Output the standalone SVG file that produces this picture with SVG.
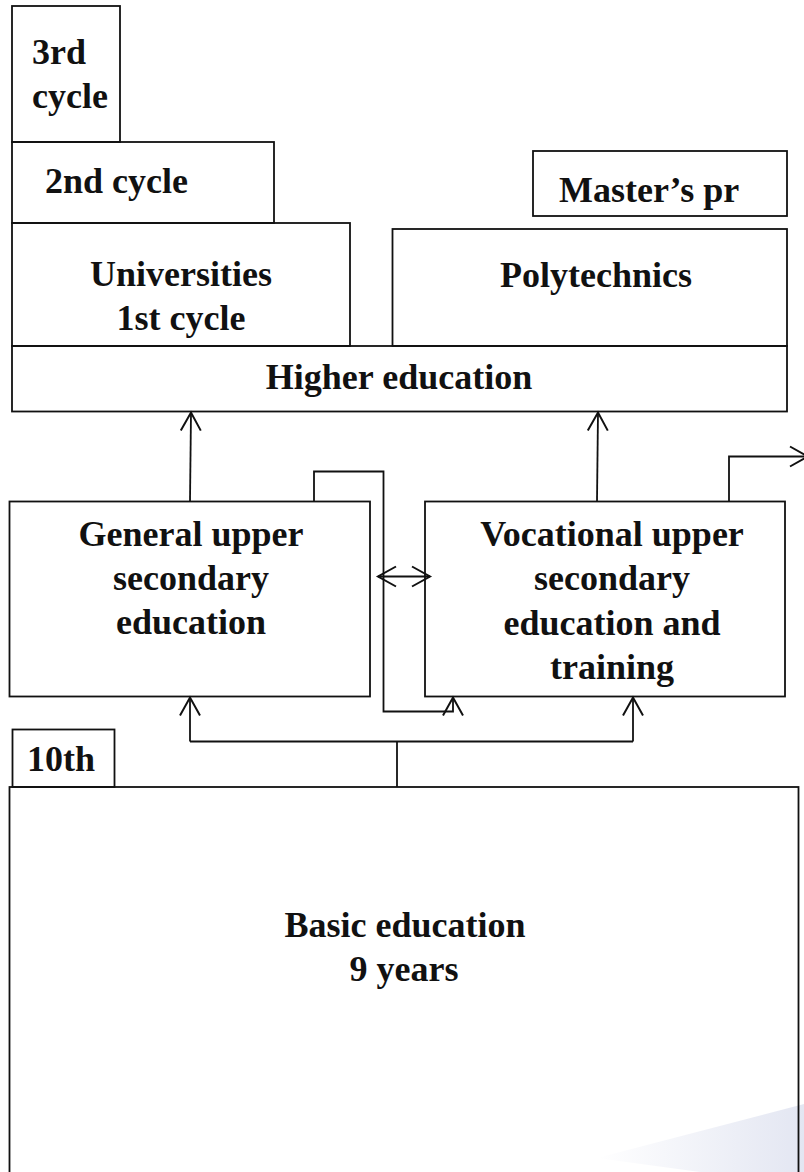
<svg xmlns="http://www.w3.org/2000/svg" width="804" height="1172" viewBox="0 0 804 1172">
<style>
.box{fill:none;stroke:#111;stroke-width:1.8}
.t{font-family:"Liberation Serif","Times New Roman",serif;font-weight:bold;font-size:36px;fill:#111}
.m{text-anchor:middle}
.c{fill:none;stroke:#111;stroke-width:1.8}
</style>
<defs>
<marker id="ah" markerUnits="userSpaceOnUse" viewBox="-20 -12 24 24" refX="0" refY="0" markerWidth="24" markerHeight="24" orient="auto-start-reverse">
<path d="M-18,-10 L0,0 L-18,10" fill="none" stroke="#111" stroke-width="2"/>
</marker>
<linearGradient id="wm" x1="0" y1="0" x2="1" y2="0">
<stop offset="0" stop-color="#ffffff"/>
<stop offset="1" stop-color="#e3e6f2"/>
</linearGradient>
</defs>
<rect width="804" height="1172" fill="#fff"/>
<polygon points="597,1158 804,1104 804,1172 700,1172" fill="url(#wm)"/>

<g id="third-cycle"><rect class="box" x="12" y="6" width="108" height="136"/><text class="t" x="32" y="64">3rd</text><text class="t" x="32" y="108">cycle</text></g>
<g id="second-cycle"><rect class="box" x="12" y="142" width="262" height="81"/><text class="t" x="45" y="193">2nd cycle</text></g>
<g id="universities"><rect class="box" x="12" y="223" width="338" height="123"/><text class="t m" x="181" y="286">Universities</text><text class="t m" x="181" y="330">1st cycle</text></g>
<g id="masters"><rect class="box" x="533" y="151" width="254" height="65"/><text class="t" x="559" y="202">Master’s pr</text></g>
<g id="polytechnics"><rect class="box" x="392.5" y="229" width="394.5" height="117"/><text class="t m" x="596" y="287">Polytechnics</text></g>
<g id="higher-education"><rect class="box" x="12" y="346" width="775" height="65.5"/><text class="t m" x="399" y="389">Higher education</text></g>
<g id="general-upper"><rect class="box" x="9.5" y="501.5" width="360.5" height="195"/><text class="t m" x="191" y="546">General upper</text><text class="t m" x="191" y="590">secondary</text><text class="t m" x="191" y="634">education</text></g>
<g id="vocational-upper"><rect class="box" x="425" y="501.5" width="360" height="195"/><text class="t m" x="612" y="546">Vocational upper</text><text class="t m" x="612" y="590">secondary</text><text class="t m" x="612" y="635">education and</text><text class="t m" x="612" y="679">training</text></g>
<g id="tenth"><rect class="box" x="12.5" y="729.5" width="102" height="57.5"/><text class="t m" x="61" y="771">10th</text></g>
<g id="basic-education"><rect class="box" x="9.5" y="787" width="789" height="400"/><text class="t m" x="405" y="937">Basic education</text><text class="t m" x="404" y="981">9 years</text></g>

<g id="connectors">
<path class="c" d="M190,501 L191,412.5" marker-end="url(#ah)"/>
<path class="c" d="M597,501 L598,412.5" marker-end="url(#ah)"/>
<path class="c" d="M729,501 V456.5 H808" marker-end="url(#ah)"/>
<path class="c" d="M314,501 V471.5 H383.5 V711.5 H453 V697.5" marker-end="url(#ah)"/>
<path class="c" d="M378,576.5 H430" marker-start="url(#ah)" marker-end="url(#ah)"/>
<path class="c" d="M397,787 V741.5"/>
<path class="c" d="M190,741.5 H633"/>
<path class="c" d="M190,741.5 V697.5" marker-end="url(#ah)"/>
<path class="c" d="M633,741.5 V697.5" marker-end="url(#ah)"/>
</g>
</svg>
